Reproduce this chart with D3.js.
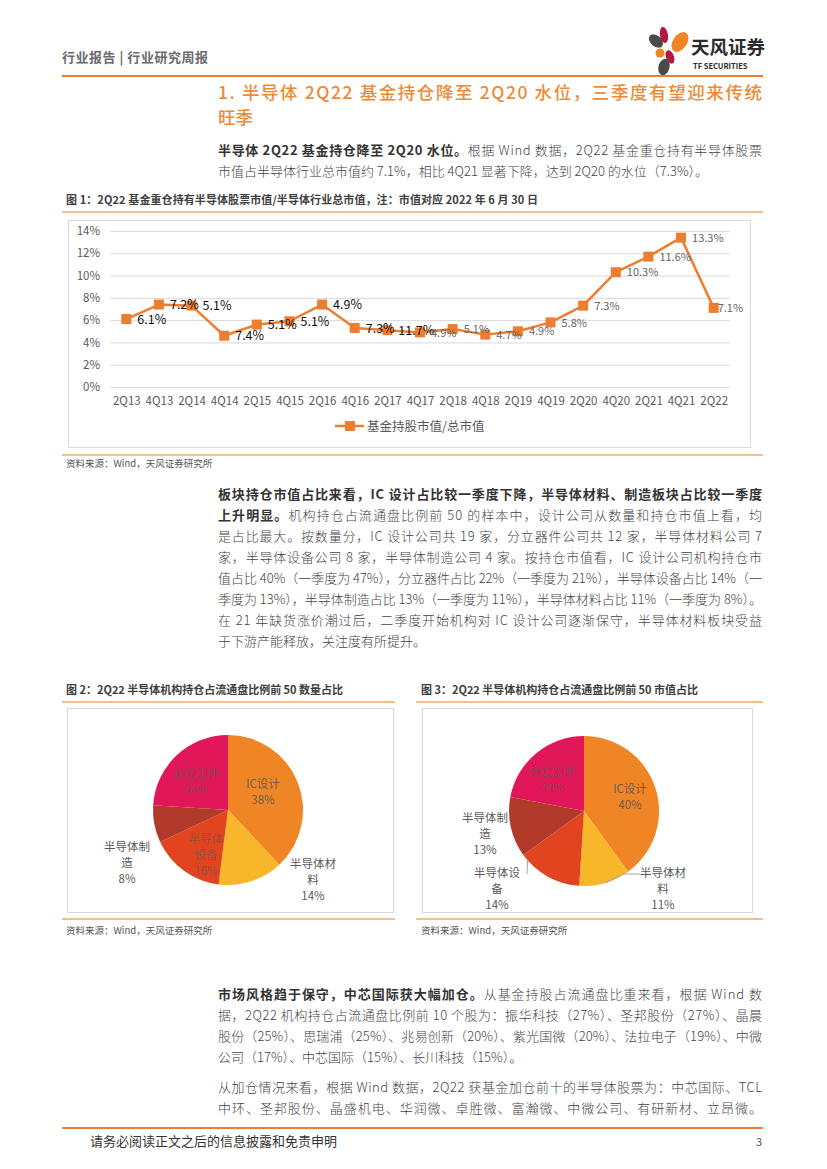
<!DOCTYPE html>
<html><head><meta charset="utf-8">
<script src="https://cdn.jsdelivr.net/npm/d3@7"></script>
<style>
html,body{margin:0;padding:0;background:#fff;}
svg{display:block;}
text{font-family:"Noto Sans CJK SC","Noto Sans",sans-serif;}
</style></head>
<body>
<svg id="page" width="827" height="1169"></svg>
<script>
// ---------- DATA ----------
const quarters = ['2Q13','4Q13','2Q14','4Q14','2Q15','4Q15','2Q16','4Q16','2Q17','4Q17','2Q18','4Q18','2Q19','4Q19','2Q20','4Q20','2Q21','4Q21','2Q22'];
const fundShare = [6.1,7.4,7.3,4.6,5.6,5.9,7.4,5.3,5.1,4.9,5.2,4.7,5.0,5.8,7.3,10.3,11.7,13.4,7.1];
const fundShareLabels = ['6.1%','7.2%','5.1%','7.4%','5.1%','5.1%','4.9%','7.3%','11.7%','4.9%','5.1%','4.7%','4.9%','5.8%','7.3%','10.3%','11.6%','13.3%','7.1%'];
const yTicks = [0,2,4,6,8,10,12,14];
const seriesName = '基金持股市值/总市值';

const sectors = ['IC设计','半导体材料','半导体设备','半导体制造','分立器件'];
const countShare = [38,14,16,8,24];
const valueShare = [40,11,14,13,22];
const countLabels = [['IC设计','38%'],['半导体材','料','14%'],['半导体','设备','16%'],['半导体制','造','8%'],['分立器件','24%']];
const valueLabels = [['IC设计','40%'],['半导体材','料','11%'],['半导体设','备','14%'],['半导体制','造','13%'],['分立器件','22%']];

// ---------- STYLE / LAYOUT ----------
const ORANGE = '#ED7D31';
const RULE = '#F0A868';
const sectorColors = ['#F08526','#F8B62A','#E2441F','#B23A2B','#E2175A'];
const insideAlpha = [0.9,0.9,0.6,0.6,0.6];
// label anchor offsets (dx, dy) from pie centre, and outside flag
const countLabelPos = [[35,-18,false],[85,70,true],[-22,45,false],[-101,53,true],[-32,-28,false]];
const valueLabelPos = [[46,-14,false],[79,78,true],[-87,78,true],[-99,23,true],[-32,-31,false]];

const svg = d3.select('#page');
const FONT = '"Noto Sans CJK SC","Noto Sans",sans-serif';
const LATIN = '"Liberation Sans",Arial,sans-serif';

// ---------- HEADER ----------
svg.append('text').attr('x',62).attr('y',62).attr('font-size',13).attr('font-weight',700)
  .attr('fill','#6b6b6b').attr('textLength',146).attr('lengthAdjust','spacing').text('行业报告 | 行业研究周报');
// logo petals
const logo = svg.append('g');
[[664,35,4,8,-10,'#B5173F'],[680,42,7,11,35,'#F08526'],[656,41,5.5,8,-50,'#4a4a4a'],
 [660,53,4.5,4.5,0,'#F08526'],[670,57,4,7,-20,'#B5173F'],[664,67,5.5,8.5,15,'#4a4a4a']].forEach(p=>{
  logo.append('ellipse').attr('cx',p[0]).attr('cy',p[1]).attr('rx',p[2]).attr('ry',p[3])
    .attr('transform',`rotate(${p[4]},${p[0]},${p[1]})`).attr('fill',p[5]);
});
svg.append('text').attr('x',691).attr('y',54).attr('font-size',18.5).attr('font-weight',700)
  .attr('fill','#2b2b2b').text('天风证券');
svg.append('text').attr('x',693).attr('y',69).attr('font-size',7.5).attr('font-weight',700)
  .attr('fill','#2b2b2b').attr('font-family','"Liberation Sans Narrow","DejaVu Sans Condensed",sans-serif').text('TF SECURITIES');
svg.append('line').attr('x1',62).attr('x2',763).attr('y1',76).attr('y2',76).attr('stroke',ORANGE).attr('stroke-width',2);

// ---------- TITLE ----------
svg.append('text').attr('x',218).attr('y',99).attr('font-size',17.5).attr('font-weight',500).attr('fill','#EE8A35')
  .attr('textLength',544).attr('lengthAdjust','spacing')
  .text('1. 半导体 2Q22 基金持仓降至 2Q20 水位，三季度有望迎来传统');
svg.append('text').attr('x',218).attr('y',124).attr('font-size',17.5).attr('font-weight',500).attr('fill','#EE8A35').text('旺季');

// ---------- PARAGRAPHS ----------
function para(lines, x, y0, lh){
  lines.forEach((ln,i)=>{
    const t = svg.append('text').attr('x',x).attr('y',y0+i*lh).attr('font-size',13).attr('fill','#3a3a3a').attr('font-weight',300);
    if(ln.just){ t.attr('textLength',544).attr('lengthAdjust','spacing'); }
    ln.parts.forEach(p=>{
      t.append('tspan').attr('font-weight',p.b?700:300).attr('fill',p.b?'#333':'#444').text(p.t);
    });
  });
}
para([
  {just:true, parts:[{b:1,t:'半导体 2Q22 基金持仓降至 2Q20 水位。'},{t:'根据 Wind 数据，2Q22 基金重仓持有半导体股票'}]},
  {just:false, parts:[{t:'市值占半导体行业总市值约 7.1%，相比 4Q21 显著下降，达到 2Q20 的水位（7.3%）。'}]}
],218,155,21);

para([
  {just:true, parts:[{b:1,t:'板块持仓市值占比来看，IC 设计占比较一季度下降，半导体材料、制造板块占比较一季度'}]},
  {just:true, parts:[{b:1,t:'上升明显。'},{t:'机构持仓占流通盘比例前 50 的样本中，设计公司从数量和持仓市值上看，均'}]},
  {just:true, parts:[{t:'是占比最大。按数量分，IC 设计公司共 19 家，分立器件公司共 12 家，半导体材料公司 7'}]},
  {just:true, parts:[{t:'家，半导体设备公司 8 家，半导体制造公司 4 家。按持仓市值看，IC 设计公司机构持仓市'}]},
  {just:true, parts:[{t:'值占比 40%（一季度为 47%），分立器件占比 22%（一季度为 21%），半导体设备占比 14%（一'}]},
  {just:true, parts:[{t:'季度为 13%），半导体制造占比 13%（一季度为 11%），半导体材料占比 11%（一季度为 8%）。'}]},
  {just:true, parts:[{t:'在 21 年缺货涨价潮过后，二季度开始机构对 IC 设计公司逐渐保守，半导体材料板块受益'}]},
  {just:false, parts:[{t:'于下游产能释放，关注度有所提升。'}]}
],218,499,21);

para([
  {just:true, parts:[{b:1,t:'市场风格趋于保守，中芯国际获大幅加仓。'},{t:'从基金持股占流通盘比重来看，根据 Wind 数'}]},
  {just:true, parts:[{t:'据，2Q22 机构持仓占流通盘比例前 10 个股为：振华科技（27%）、圣邦股份（27%）、晶晨'}]},
  {just:true, parts:[{t:'股份（25%）、思瑞浦（25%）、兆易创新（20%）、紫光国微（20%）、法拉电子（19%）、中微'}]},
  {just:false, parts:[{t:'公司（17%）、中芯国际（15%）、长川科技（15%）。'}]}
],218,999,21);

para([
  {just:true, parts:[{t:'从加仓情况来看，根据 Wind 数据，2Q22 获基金加仓前十的半导体股票为：中芯国际、TCL'}]},
  {just:true, parts:[{t:'中环、圣邦股份、晶盛机电、华润微、卓胜微、富瀚微、中微公司、有研新材、立昂微。'}]}
],218,1092,21);

// ---------- FIGURE TITLES / RULES ----------
function figTitle(x,y,txt,x1,x2,ly,w){
  svg.append('text').attr('x',x).attr('y',y).attr('font-size',11).attr('font-weight',700).attr('fill','#404040')
    .attr('textLength',w).attr('lengthAdjust','spacing').text(txt);
  svg.append('line').attr('x1',x1).attr('x2',x2).attr('y1',ly).attr('y2',ly).attr('stroke',RULE).attr('stroke-width',1.5);
}
function source(x,y,x1,x2,ly){
  svg.append('line').attr('x1',x1).attr('x2',x2).attr('y1',ly).attr('y2',ly).attr('stroke',RULE).attr('stroke-width',1.5);
  svg.append('text').attr('x',x).attr('y',y).attr('font-size',9.5).attr('fill','#555').text('资料来源：Wind，天风证券研究所');
}
figTitle(66,204,'图 1：2Q22 基金重仓持有半导体股票市值/半导体行业总市值，注：市值对应 2022 年 6 月 30 日',62,763,212,472);
source(66,467,62,763,455);
figTitle(66,694,'图 2：2Q22 半导体机构持仓占流通盘比例前 50 数量占比',62,395,702,277);
figTitle(421,694,'图 3：2Q22 半导体机构持仓占流通盘比例前 50 市值占比',416,763,702,277);
source(66,934,62,395,919);
source(421,934,416,763,919);

// ---------- LINE CHART ----------
svg.append('rect').attr('x',68.5).attr('y',220.5).attr('width',682).attr('height',227).attr('fill','none').attr('stroke','#D9D9D9');
const x = d3.scalePoint().domain(quarters).range([110,730]).padding(0.5);
const y = d3.scaleLinear().domain([0,14]).range([387,231]);
const gy = svg.append('g').attr('transform','translate(110,0)')
  .call(d3.axisLeft(y).tickValues(yTicks).tickSize(-620).tickFormat(d=>d+'%'));
gy.select('.domain').remove();
gy.selectAll('.tick line').attr('stroke','#D9D9D9');
gy.selectAll('.tick text').attr('x',-10).attr('font-size',11.5).attr('fill','#595959').attr('font-family',LATIN);
const gx = svg.append('g').attr('transform','translate(0,387)')
  .call(d3.axisBottom(x).tickSize(0));
gx.select('.domain').remove();
gx.selectAll('.tick text').attr('dy','1.3em').attr('font-size',11.5).attr('fill','#595959').attr('font-family',LATIN);

svg.append('path').datum(fundShare)
  .attr('d',d3.line().x((d,i)=>x(quarters[i])).y(d=>y(d)))
  .attr('fill','none').attr('stroke',ORANGE).attr('stroke-width',2.5).attr('stroke-linejoin','round');
svg.selectAll('rect.mk').data(fundShare).enter().append('rect').attr('class','mk')
  .attr('x',(d,i)=>x(quarters[i])-5).attr('y',d=>y(d)-5).attr('width',10).attr('height',10).attr('fill',ORANGE);
svg.selectAll('text.dl').data(fundShareLabels).enter().append('text').attr('class','dl')
  .attr('x',(d,i)=>x(quarters[i])+(i===18?4:11)).attr('y',(d,i)=>y(fundShare[i]))
  .attr('dy','0.38em')
  .attr('font-size',(d,i)=>i<9?12.5:11)
  .attr('fill',(d,i)=>i<9?'#111':'#666')
  .attr('font-family',LATIN)
  .text(d=>d);

// legend
svg.append('line').attr('x1',335).attr('x2',364).attr('y1',426).attr('y2',426).attr('stroke',ORANGE).attr('stroke-width',2.5);
svg.append('rect').attr('x',345).attr('y',421).attr('width',10).attr('height',10).attr('fill',ORANGE);
svg.append('text').attr('x',367).attr('y',430.5).attr('font-size',12.5).attr('fill','#595959').text(seriesName);

// ---------- PIES ----------
function pie(cx,cy,R,values,labels,pos,boxX,boxW,leaders){
  svg.append('rect').attr('x',boxX+0.5).attr('y',708.5).attr('width',boxW).attr('height',204).attr('fill','none').attr('stroke','#D9D9D9');
  const g = svg.append('g').attr('transform',`translate(${cx},${cy})`);
  const arcs = d3.pie().sort(null).value(d=>d)(values);
  const arc = d3.arc().innerRadius(0).outerRadius(R);
  g.selectAll('path').data(arcs).enter().append('path').attr('d',arc)
    .attr('fill',(d,i)=>sectorColors[i]);
  if(leaders){
    leaders.forEach(l=>{
      const a = arcs[l.i]; const mid=(a.startAngle+a.endAngle)/2 + (l.da||0);
      const px = R*Math.sin(mid), py = -R*Math.cos(mid);
      g.append('polyline').attr('points',[[px,py],...l.pts].map(p=>p.join(',')).join(' '))
        .attr('fill','none').attr('stroke','#A6A6A6').attr('stroke-width',1);
    });
  }
  labels.forEach((lines,i)=>{
    const [dx,dy,out] = pos[i];
    const t = g.append('text').attr('text-anchor','middle').attr('font-size',11.5)
      .attr('fill','#595959').attr('fill-opacity',out?1:insideAlpha[i]);
    const n = lines.length, lh=16;
    lines.forEach((s,k)=>{
      t.append('tspan').attr('x',dx).attr('y',dy+(k-(n-1)/2)*lh).attr('dy','0.35em').text(s);
    });
  });
}
pie(228,810,75,countShare,countLabels,countLabelPos,67,326);
pie(584,811,75,valueShare,valueLabels,valueLabelPos,422,330,[
  {i:1, pts:[[38,63],[56,63]]},
  {i:2, da:0.35, pts:[[-57,63]]}
]);

// ---------- FOOTER ----------
svg.append('line').attr('x1',62).attr('x2',763).attr('y1',1128).attr('y2',1128).attr('stroke',ORANGE).attr('stroke-width',2);
svg.append('text').attr('x',90).attr('y',1146).attr('font-size',13).attr('fill','#333').text('请务必阅读正文之后的信息披露和免责申明');
svg.append('text').attr('x',762).attr('y',1146).attr('text-anchor','end').attr('font-size',11).attr('fill','#555').text('3');
</script>
</body></html>
